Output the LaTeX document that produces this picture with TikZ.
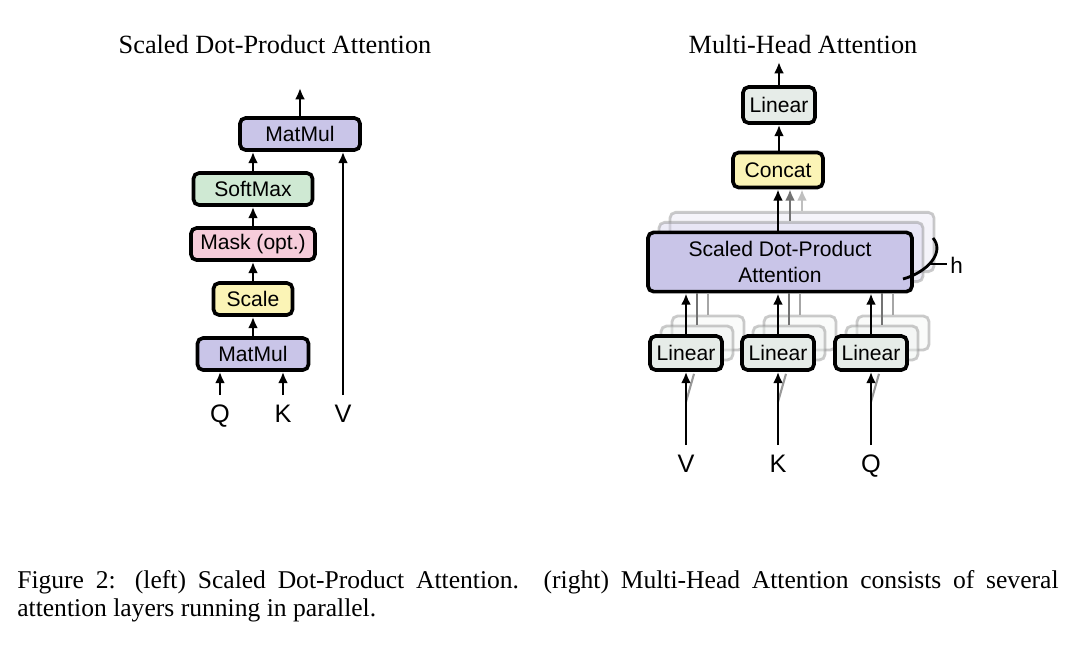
\documentclass[tikz,border=0pt]{standalone}
\usepackage{fontspec}
\setmainfont{Liberation Serif}
\newfontfamily\boxfont{Liberation Sans}
\usetikzlibrary{arrows.meta,positioning,calc}
\definecolor{matmulc}{HTML}{C9C5E8}
\definecolor{softmaxc}{HTML}{CFE9D3}
\definecolor{maskc}{HTML}{F6CCDA}
\definecolor{scalec}{HTML}{FBF4B6}
\definecolor{linearc}{HTML}{E6ECE8}

\begin{document}
\begin{tikzpicture}[x=0.025cm, y=-0.025cm,
    block/.style={draw, rounded corners=4pt, line width=2.6pt, inner sep=0pt, minimum height=0.8cm,
      font=\boxfont\fontsize{15}{17}\selectfont},
    ghost/.style={block, line width=2pt, draw=black!45, opacity=0.45},
    arr/.style={line width=2pt, -{Latex[length=8pt,width=7pt]}},
    lbl/.style={font=\boxfont\fontsize{18}{20}\selectfont, inner sep=0pt, text height=13pt, text depth=0pt},
    title/.style={font=\fontsize{18.7}{22}\selectfont}]
  \useasboundingbox (0,0) rectangle (1080,654);
  \fill[white] (0,0) rectangle (1080,654);

  \node[title] (ltitle) at (275,44) {Scaled Dot-Product Attention};
  \node[block, fill=matmulc, minimum width=3cm] (mm2) at (300,134) {MatMul};
  \node[block, fill=softmaxc, minimum width=2.975cm] (soft) at (253,189) {SoftMax};
  \node[block, fill=maskc, minimum width=3.1cm] (mask) at (253,244) {Mask (opt.)};
  \node[block, fill=scalec, minimum width=1.975cm] (scale) at (253,299) {Scale};
  \node[block, fill=matmulc, minimum width=2.775cm] (mm1) at (253,354) {MatMul};
  \node[lbl] (q) at (220,413) {Q};
  \node[lbl] (k) at (283,413) {K};
  \node[lbl] (v) at (343,413) {V};
  \coordinate (lout) at (300,88);
  \draw[arr, shorten <=6pt] (q.north) -- (q.north |- mm1.south);
  \draw[arr, shorten <=6pt] (k.north) -- (k.north |- mm1.south);
  \draw[arr, shorten <=6pt] (v.north) -- (v.north |- mm2.south);
  \draw[arr] (mm1) -- (scale);
  \draw[arr] (scale) -- (mask);
  \draw[arr] (mask) -- (soft);
  \draw[arr] (soft.north) -- (soft.north |- mm2.south);
  \draw[arr] (mm2) -- (lout);

  \node[title] (rtitle) at (803,44) {Multi-Head Attention};
  \node[block, fill=linearc, minimum width=1.8cm, minimum height=0.9cm] (lin) at (779,105) {Linear};
  \node[block, fill=scalec, minimum width=2.25cm, minimum height=0.875cm] (concat) at (778,170) {Concat};
  \foreach \i/\c in {2/40,1/70}
    \node[ghost, fill=matmulc!\c!white, minimum width=6.6cm, minimum height=1.48cm]
      (sdpa\i) at (780+11*\i,262-10*\i) {};
  \node[block, fill=matmulc, minimum width=6.6cm, minimum height=1.48cm, align=center,
    font=\boxfont\fontsize{15}{19}\selectfont] (sdpa) at (780,262) {Scaled Dot-Product\\Attention};
  \foreach \n/\x in {v/686,k/778,q/871} {
    \foreach \i/\c in {2/40,1/70}
      \node[ghost, fill=linearc!\c!white, minimum width=1.8cm, minimum height=0.85cm]
        (lin\n\i) at (\x+11*\i,353-10*\i) {};
    \node[block, fill=linearc, minimum width=1.8cm, minimum height=0.85cm] (lin\n) at (\x,353) {Linear};
  }
  \node[lbl] (rv) at (686,463) {V};
  \node[lbl] (rk) at (778,463) {K};
  \node[lbl] (rq) at (871,463) {Q};
  \coordinate (rout) at (779,62);
  \foreach \n in {v,k,q} {
    \draw[black!35, line width=1.8pt] (lin\n2.north) -- (lin\n2.north |- sdpa.south);
    \draw[black!55, line width=1.8pt] (lin\n1.north) -- (lin\n1.north |- sdpa.south);
    \draw[arr] (lin\n) -- (lin\n |- sdpa.south);
    \coordinate (in\n) at ($(lin\n.south)+(0,30)$);
    \draw[black!40, line width=1.5pt] (in\n) -- ($(lin\n.south)+(8,2)$);
  }
  \draw[arr, shorten <=6pt] (rv.north) -- (linv.south);
  \draw[arr, shorten <=6pt] (rk.north) -- (link.south);
  \draw[arr, shorten <=6pt] (rq.north) -- (linq.south);
  \draw[arr, draw=black!25] (sdpa2.north -| 802,0) -- (802,0 |- concat.south);
  \draw[arr, draw=black!55] (sdpa1.north -| 790,0) -- (790,0 |- concat.south);
  \draw[arr] (sdpa.north -| concat) -- (concat.south);
  \draw[arr] (concat.north -| lin) -- (lin.south);
  \draw[arr] (lin) -- (rout);
  \draw[line width=2pt] (933,238) .. controls (945,252) and (928,272) .. (903,279);
  \node[lbl, font=\boxfont\fontsize{16}{18}\selectfont, anchor=west] (h) at (950,264) {h};
  \draw[line width=1.3pt] (928,264) -- ($(h.west)+(-3,0)$);

  \node[anchor=north west, text width=26.025cm, align=justify, inner sep=0pt,
    font=\fontsize{18.2}{20}\selectfont] (cap) at (17,570)
    {Figure 2: (left) Scaled Dot-Product Attention. (right) Multi-Head Attention consists of several\linebreak attention layers running in parallel.};
\end{tikzpicture}
\end{document}
